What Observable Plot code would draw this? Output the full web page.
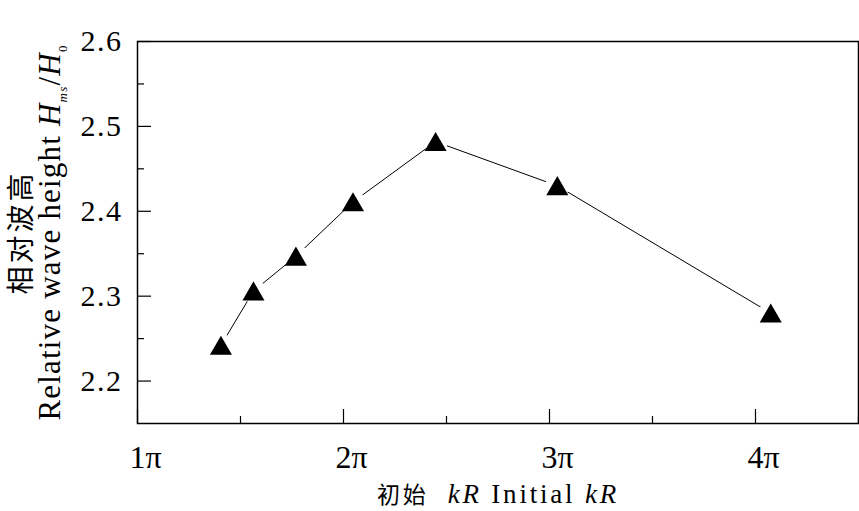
<!DOCTYPE html>
<html>
<head>
<meta charset="utf-8">
<script src="https://cdn.jsdelivr.net/npm/d3@7"></script>
<script src="https://cdn.jsdelivr.net/npm/@observablehq/plot@0.6"></script>
<style>
  html, body { margin: 0; padding: 0; background: white; }
</style>
</head>
<body>
<div id="chart"></div>
<script>
// Data (x in units of π)
const kR = [1.405, 1.563, 1.769, 2.046, 2.447, 3.038, 4.074];
const Hrel = [2.242, 2.306, 2.347, 2.411, 2.482, 2.430, 2.280];

const yTicks = [2.2, 2.3, 2.4, 2.5, 2.6];
const yMinorTicks = [2.25, 2.35, 2.45, 2.55];
const xTicks = [1, 2, 3, 4];
const xTickLabels = ["1π", "2π", "3π", "4π"];
const xMinorTicks = [1.5, 2.5, 3.5, 4.5];

const yTitleCn = "相对波高";
const yTitleEn = "Relative wave height ";
const xTitleCn = "初始";
const xTitleEn = " Initial ";

const data = kR.map((x, i) => ({x, y: Hrel[i]}));

const serif = "'Liberation Serif', 'Times New Roman', serif";
const cjk = "'Noto Sans CJK SC', sans-serif";

const chart = Plot.plot({
  width: 859,
  height: 511,
  marginLeft: 137,
  marginRight: 1,
  marginTop: 41,
  marginBottom: 88,
  style: {fontFamily: serif, color: "black", background: "white"},
  x: {domain: [1, 4.5]},
  y: {domain: [2.15, 2.6]},
  marks: [
    Plot.axisY(yTicks, {tickSize: -14, tickPadding: 29, fontSize: 30, strokeWidth: 1.2, tickFormat: d => d.toFixed(1), label: null}),
    Plot.axisY(yMinorTicks, {tickSize: -7, strokeWidth: 1.2, text: null, label: null}),
    Plot.axisX(xTicks, {tickSize: -14, strokeWidth: 1.2, text: null, label: null}),
    Plot.axisX(xTicks, {tickSize: 0, tickPadding: 22, fontSize: 32, dx: 8, tickFormat: d => xTickLabels[xTicks.indexOf(d)], label: null}),
    Plot.axisX(xMinorTicks, {tickSize: -7, strokeWidth: 1.2, text: null, label: null}),
    Plot.frame({stroke: "black", strokeWidth: 1.5}),
    Plot.line(data, {x: "x", y: "y", stroke: "black", strokeWidth: 1}),
    Plot.dot(data, {x: "x", y: "y", r: 12, fill: "white"}),
    Plot.dot(data, {x: "x", y: "y", r: 8.2, symbol: "triangle", fill: "black", dy: 3}),
    Plot.text([yTitleEn], {frameAnchor: "left", textAnchor: "middle", lineAnchor: "middle", rotate: -90, dx: -87, fontSize: 31}),
    Plot.text([yTitleCn], {frameAnchor: "left", textAnchor: "middle", lineAnchor: "middle", rotate: -90, dx: -115, fontSize: 28, fontFamily: cjk}),
    Plot.text([xTitleEn], {frameAnchor: "bottom", textAnchor: "middle", lineAnchor: "middle", dy: 71, fontSize: 27})
  ]
});

document.getElementById("chart").appendChild(chart);

// Rich text for axis titles (subscripts / italics / mixed scripts)
const svg = d3.select(chart);
const byText = s => svg.selectAll("text").filter(function() { return this.textContent === s; });

svg.selectAll("text").filter(function() { return yTicks.map(d => d.toFixed(1)).includes(this.textContent); })
  .attr("letter-spacing", 1.5);

byText(yTitleCn).attr("letter-spacing", 3);

const yt = byText(yTitleEn);
yt.text(null).attr("letter-spacing", 1.2);
yt.append("tspan").text(yTitleEn);
yt.append("tspan").attr("font-style", "italic").text("H");
yt.append("tspan").attr("font-style", "italic").attr("font-size", 13).attr("dy", 7).text("ms");
yt.append("tspan").attr("dy", -7).text("/");
yt.append("tspan").attr("font-style", "italic").text("H");
yt.append("tspan").attr("font-size", 13).attr("dy", 7).text("0");

const xt = byText(xTitleEn);
xt.text(null).attr("letter-spacing", 2.8);
xt.append("tspan").attr("font-family", cjk).attr("font-size", 23).text(xTitleCn);
xt.append("tspan").text("  ");
xt.append("tspan").attr("font-style", "italic").text("kR");
xt.append("tspan").text(xTitleEn);
xt.append("tspan").attr("font-style", "italic").text("kR");
</script>
</body>
</html>
